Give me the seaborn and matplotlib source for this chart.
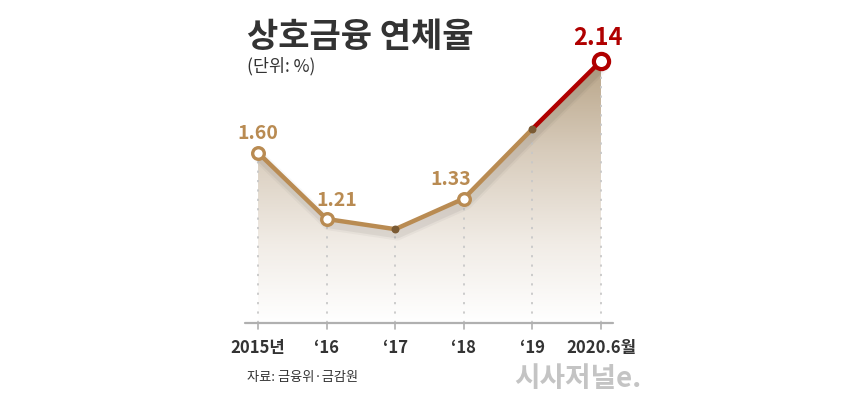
'''
상호금융 연체율 line chart
'''
import numpy as np
import pandas as pd
import matplotlib
matplotlib.use("Agg")
import matplotlib.pyplot as plt
import seaborn as sns
from matplotlib.colors import LinearSegmentedColormap

years = ["2015년", "‘16", "‘17", "‘18", "‘19", "2020.6월"]
rates = [1.60, 1.21, 1.15, 1.33, 1.74, 2.14]
labelled = [0, 1, 3]  # points with open circles + value labels (last one is red)

TAN = "#b98b52"
RED = "#b00000"
DARK = "#333333"
BASE = 0.598

sns.set_style("white")
plt.rcParams["font.family"] = ["Noto Sans CJK KR", "DejaVu Sans"]

df = pd.DataFrame({"x": range(len(years)), "rate": rates})

W, H = 860, 399
fig = plt.figure(figsize=(W / 100, H / 100), dpi=100)
# axes placed in pixel terms: left 245, right 613, top 40, baseline 323
ax = fig.add_axes([245 / W, (H - 323) / H, (613 - 245) / W, (323 - 40) / H])
ax.set_xlim(-0.19, 5.175)
ax.set_ylim(BASE, 2.263)
ax.axis("off")

# gradient fill under the line
cmap = LinearSegmentedColormap.from_list(
    "fade", [(0, "#ffffff"), (0.3, "#f1ece6"), (0.65, "#d8ccbc"), (1, "#b8a487")])
grad = np.linspace(0, 1, 256).reshape(-1, 1)
img = ax.imshow(grad, cmap=cmap, aspect="auto", origin="lower",
                extent=[0, 5, BASE, 2.14], zorder=1)
poly = ax.fill_between(df.x, rates, BASE, color="none")
img.set_clip_path(poly.get_paths()[0], transform=ax.transData)

# dotted guides and small ticks under the baseline
for i, v in enumerate(rates):
    ax.plot([i, i], [BASE, v], ls=(0, (1.2, 4)), color="#c8c8c8", lw=1.3, zorder=2)
    ax.plot([i, i], [BASE, BASE - 0.035], color="#b0b0b0", lw=1.2, zorder=3, clip_on=False)

# baseline
ax.plot([-0.19, 5.175], [BASE, BASE], color="#b0b0b0", lw=1.6, zorder=3, clip_on=False)

# soft shadow under the line
for w, a in [(9, 0.03), (6, 0.05)]:
    ax.plot(df.x + 0.03, np.array(rates) - 0.03, color="#000000", alpha=a, lw=w,
            zorder=3, solid_capstyle="round")

sns.lineplot(data=df.iloc[:5], x="x", y="rate", ax=ax, color=TAN, lw=3.2, zorder=4)
sns.lineplot(data=df.iloc[4:], x="x", y="rate", ax=ax, color=RED, lw=3.2, zorder=4)

ax.scatter([2, 4], [rates[2], rates[4]], s=22, color="#7a5a33", zorder=5)
ax.scatter([df.x[i] for i in labelled], [rates[i] for i in labelled], s=70,
           facecolor="white", edgecolor=TAN, linewidth=2.4, zorder=6)
ax.scatter([5], [rates[5]], s=120, facecolor="white", edgecolor=RED, linewidth=3, zorder=6)

offsets = {0: (0, 0.11), 1: (0.15, 0.11), 3: (-0.19, 0.11)}
for i in labelled:
    dx, dy = offsets[i]
    ax.text(i + dx, rates[i] + dy, f"{rates[i]:.2f}", ha="center", va="center",
            fontsize=14, fontweight="bold", color=TAN)
ax.text(4.96, rates[5] + 0.135, f"{rates[5]:.2f}", ha="center", va="center",
        fontsize=17, fontweight="bold", color=RED, clip_on=False)

for i, lab in enumerate(years):
    ax.text(i, BASE - 0.15, lab, ha="center", va="center", fontsize=12,
            fontweight="bold", color=DARK, clip_on=False)

fig.text(247 / W, 1 - 36 / H, "상호금융 연체율", fontsize=24.5, fontweight="bold",
         color=DARK, va="center", ha="left")
fig.text(247 / W, 1 - 66 / H, "(단위: %)", fontsize=12.5, color=DARK, va="center", ha="left")
fig.text(247 / W, 1 - 377 / H, "자료: 금융위·금감원", fontsize=9.5, color=DARK, va="center", ha="left")
fig.text(641 / W, 1 - 379 / H, "시사저널e.", fontsize=20, fontweight="bold",
         color="#c4c4c4", va="center", ha="right")

fig.savefig("out.png", dpi=100)
